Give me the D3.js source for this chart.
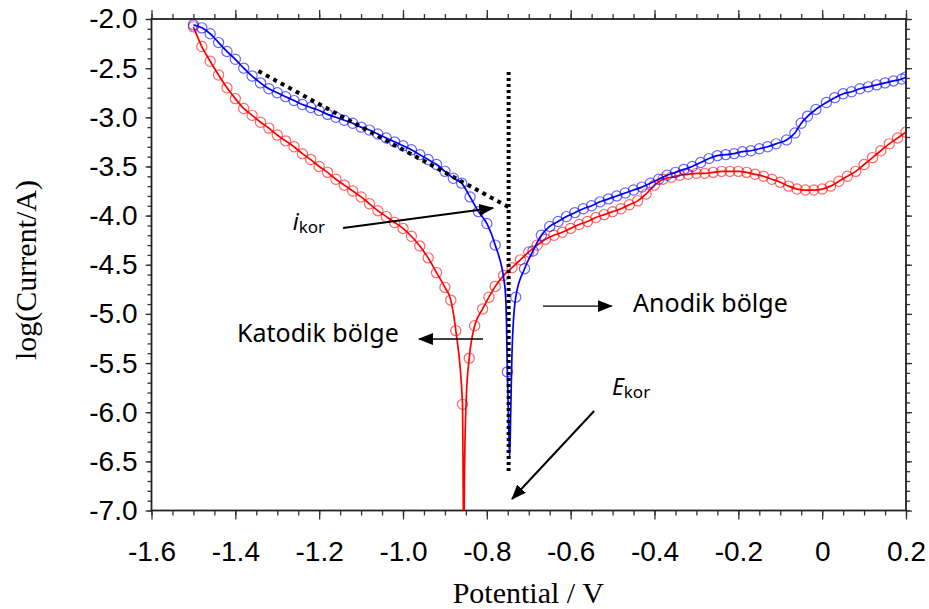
<!DOCTYPE html>
<html>
<head>
<meta charset="utf-8">
<script src="https://cdn.jsdelivr.net/npm/d3@7"></script>
<style>
  body { margin: 0; background: #fff; }
  svg { display: block; }
</style>
</head>
<body>
<svg width="929" height="609"></svg>
<script>
// scan data: [potential (V), log(Current/A)]
const bluePoints = [
  [-1.50,-2.06],[-1.48,-2.09],[-1.46,-2.15],[-1.44,-2.24],[-1.42,-2.33],[-1.40,-2.41],
  [-1.38,-2.50],[-1.36,-2.58],[-1.34,-2.65],[-1.32,-2.71],[-1.30,-2.75],[-1.28,-2.79],
  [-1.26,-2.83],[-1.24,-2.87],[-1.22,-2.90],[-1.20,-2.93],[-1.18,-2.97],[-1.16,-3.00],
  [-1.14,-3.03],[-1.12,-3.06],[-1.10,-3.10],[-1.08,-3.13],[-1.06,-3.17],[-1.04,-3.21],
  [-1.02,-3.25],[-1.00,-3.29],[-0.98,-3.33],[-0.96,-3.38],[-0.94,-3.43],[-0.92,-3.48],
  [-0.90,-3.55],[-0.88,-3.62],[-0.86,-3.67],[-0.84,-3.81],[-0.82,-3.96],[-0.80,-4.08],
  [-0.78,-4.30],[-0.751,-5.59],[-0.731,-4.83],[-0.71,-4.54],[-0.69,-4.36],[-0.67,-4.20],
  [-0.65,-4.11],[-0.63,-4.06],[-0.61,-4.01],[-0.59,-3.97],[-0.57,-3.93],[-0.55,-3.90],
  [-0.53,-3.86],[-0.51,-3.83],[-0.49,-3.80],[-0.47,-3.77],[-0.45,-3.74],[-0.43,-3.71],
  [-0.41,-3.67],[-0.39,-3.63],[-0.37,-3.59],[-0.35,-3.56],[-0.33,-3.53],[-0.31,-3.50],
  [-0.29,-3.46],[-0.27,-3.42],[-0.25,-3.39],[-0.23,-3.38],[-0.21,-3.37],[-0.19,-3.35],
  [-0.17,-3.34],[-0.15,-3.32],[-0.13,-3.30],[-0.11,-3.27],[-0.085,-3.23],[-0.065,-3.16],
  [-0.05,-3.06],[-0.035,-2.99],[-0.015,-2.92],[0.01,-2.85],[0.03,-2.80],[0.05,-2.76],
  [0.07,-2.74],[0.09,-2.71],[0.11,-2.69],[0.13,-2.67],[0.15,-2.65],[0.17,-2.63],
  [0.19,-2.61],[0.20,-2.59]
];
// fitted curve only (no marker) through the corrosion dip
const blueCusp = [
  [-0.757,-4.72],[-0.753,-5.1],[-0.748,-6.1],[-0.7455,-6.46],[-0.743,-6.0],[-0.740,-5.4],[-0.736,-5.03]
];

const redPoints = [
  [-1.50,-2.08],[-1.48,-2.28],[-1.46,-2.43],[-1.44,-2.57],[-1.42,-2.70],[-1.40,-2.81],
  [-1.38,-2.91],[-1.36,-2.98],[-1.34,-3.05],[-1.32,-3.11],[-1.30,-3.18],[-1.28,-3.24],
  [-1.26,-3.30],[-1.24,-3.37],[-1.22,-3.43],[-1.20,-3.50],[-1.18,-3.56],[-1.16,-3.63],
  [-1.14,-3.69],[-1.12,-3.75],[-1.10,-3.81],[-1.08,-3.88],[-1.06,-3.95],[-1.04,-4.01],
  [-1.02,-4.07],[-1.00,-4.13],[-0.98,-4.21],[-0.96,-4.31],[-0.94,-4.43],[-0.92,-4.58],
  [-0.90,-4.73],[-0.886,-4.86],[-0.874,-5.17],[-0.858,-5.92],[-0.842,-5.45],[-0.829,-5.12],
  [-0.81,-4.95],[-0.795,-4.83],[-0.78,-4.72],[-0.76,-4.61],[-0.74,-4.53],[-0.72,-4.45],
  [-0.70,-4.37],[-0.68,-4.30],[-0.66,-4.24],[-0.64,-4.20],[-0.62,-4.17],[-0.60,-4.13],
  [-0.58,-4.09],[-0.56,-4.06],[-0.54,-4.02],[-0.52,-3.99],[-0.50,-3.96],[-0.48,-3.93],
  [-0.46,-3.89],[-0.44,-3.85],[-0.42,-3.78],[-0.40,-3.69],[-0.38,-3.63],[-0.36,-3.61],
  [-0.34,-3.59],[-0.32,-3.58],[-0.30,-3.57],[-0.28,-3.57],[-0.26,-3.56],[-0.24,-3.55],
  [-0.22,-3.55],[-0.20,-3.55],[-0.18,-3.56],[-0.16,-3.58],[-0.14,-3.60],[-0.12,-3.63],
  [-0.10,-3.66],[-0.08,-3.70],[-0.06,-3.73],[-0.04,-3.74],[-0.02,-3.74],[0.00,-3.73],
  [0.02,-3.70],[0.04,-3.65],[0.06,-3.60],[0.08,-3.55],[0.10,-3.48],[0.12,-3.41],
  [0.14,-3.34],[0.16,-3.27],[0.18,-3.21],[0.20,-3.15]
];
const redCusp = [
  [-0.8565,-6.7],[-0.855,-7.6],[-0.8535,-6.7],[-0.849,-5.85]
];

const xTicks = [-1.6,-1.4,-1.2,-1.0,-0.8,-0.6,-0.4,-0.2,0,0.2];
const yTicks = [-7.0,-6.5,-6.0,-5.5,-5.0,-4.5,-4.0,-3.5,-3.0,-2.5,-2.0];

// Tafel construction lines
const tafelLine = [[-1.345,-2.53],[-0.745,-3.92]];
const ecorLine = [[-0.748,-2.54],[-0.748,-6.62]];

// annotation arrows, in data coordinates
const arrowNotes = [
  { from: [-1.143,-4.126], to: [-0.785,-3.923], w: 2 },
  { from: [-0.809,-5.255], to: [-0.962,-5.255], w: 1.5 },
  { from: [-0.666,-4.92], to: [-0.502,-4.92], w: 1.3 },
  { from: [-0.544,-5.988], to: [-0.740,-6.883], w: 2 }
];

const textNotes = [
  { text: "Katodik bölge", at: [-1.396,-5.286] },
  { text: "Anodik bölge", at: [-0.451,-4.981] }
];
const subNotes = [
  { main: "i", sub: "kor", at: [-1.263,-4.146] },
  { main: "E", sub: "kor", at: [-0.5015,-5.825] }
];

const svg = d3.select("svg");
const pLeft = 151.5, pRight = 906, pTop = 19, pBottom = 510.5;

const x = d3.scaleLinear().domain([-1.6, 0.2]).range([pLeft, pRight]);
const y = d3.scaleLinear().domain([-7, -2]).range([pBottom, pTop]);

function fmt(d) {
  return d === 0 ? "0" : d.toFixed(1);
}

const tickFont = "'Liberation Sans', Arial, sans-serif";
const minorX = d3.range(-1.6, 0.2001, 0.05);
const minorY = d3.range(-7, -1.999, 0.1);

function styleAxis(g) {
  g.select(".domain").remove();
  g.selectAll("line").attr("stroke", "#333").attr("stroke-width", 1.3);
  g.selectAll("text").attr("font-family", tickFont).attr("font-size", 28).attr("fill", "#000");
}

// bottom
svg.append("g").attr("transform", `translate(0,${pBottom})`)
  .call(d3.axisBottom(x).tickValues(minorX).tickSize(5).tickFormat(""))
  .call(styleAxis);
svg.append("g").attr("transform", `translate(0,${pBottom})`)
  .call(d3.axisBottom(x).tickValues(xTicks).tickSize(9).tickPadding(22).tickFormat(fmt))
  .call(styleAxis);
// top
svg.append("g").attr("transform", `translate(0,${pTop})`)
  .call(d3.axisTop(x).tickValues(minorX).tickSize(5).tickFormat(""))
  .call(styleAxis);
svg.append("g").attr("transform", `translate(0,${pTop})`)
  .call(d3.axisTop(x).tickValues(xTicks).tickSize(9).tickFormat(""))
  .call(styleAxis);
// left
svg.append("g").attr("transform", `translate(${pLeft},0)`)
  .call(d3.axisLeft(y).tickValues(minorY).tickSize(4).tickFormat(""))
  .call(styleAxis);
svg.append("g").attr("transform", `translate(${pLeft},0)`)
  .call(d3.axisLeft(y).tickValues(yTicks).tickSize(6).tickPadding(8).tickFormat(fmt))
  .call(styleAxis);
// right
svg.append("g").attr("transform", `translate(${pRight},0)`)
  .call(d3.axisRight(y).tickValues(minorY).tickSize(4).tickFormat(""))
  .call(styleAxis);
svg.append("g").attr("transform", `translate(${pRight},0)`)
  .call(d3.axisRight(y).tickValues(yTicks).tickSize(6).tickFormat(""))
  .call(styleAxis);

// frame
svg.append("rect")
  .attr("x", pLeft).attr("y", pTop)
  .attr("width", pRight - pLeft).attr("height", pBottom - pTop)
  .attr("fill", "none").attr("stroke", "#222").attr("stroke-width", 1.8);

svg.append("clipPath").attr("id", "plotClip")
  .append("rect").attr("x", pLeft).attr("y", pTop)
  .attr("width", pRight - pLeft).attr("height", pBottom - pTop);

const plot = svg.append("g").attr("clip-path", "url(#plotClip)");

const line = d3.line()
  .x(d => x(d[0]))
  .y(d => y(d[1]))
  .curve(d3.curveMonotoneX);

function drawSeries(points, cusp, color) {
  const all = points.concat(cusp).sort((a, b) => a[0] - b[0]);
  plot.selectAll(null)
    .data(points)
    .enter()
    .append("circle")
    .attr("cx", d => x(d[0]))
    .attr("cy", d => y(d[1]))
    .attr("r", 5.1)
    .attr("fill", "none")
    .attr("stroke", color)
    .attr("stroke-opacity", 0.6)
    .attr("stroke-width", 1.2);
  plot.append("path")
    .datum(all)
    .attr("d", line)
    .attr("fill", "none")
    .attr("stroke", color)
    .attr("stroke-width", 1.7);
}

drawSeries(redPoints, redCusp, "#ff0000");
drawSeries(bluePoints, blueCusp, "#0000ff");

// dotted tangent lines
const straight = d3.line().x(d => x(d[0])).y(d => y(d[1]));
svg.append("path").datum(tafelLine).attr("d", straight)
  .attr("stroke", "#000").attr("stroke-width", 4).attr("stroke-dasharray", "4,4.5").attr("fill", "none");
svg.append("path").datum(ecorLine).attr("d", straight)
  .attr("stroke", "#000").attr("stroke-width", 4).attr("stroke-dasharray", "3,3").attr("fill", "none");

// arrows
svg.append("defs").append("marker")
  .attr("id", "head")
  .attr("viewBox", "0 0 15 12")
  .attr("refX", 14).attr("refY", 6)
  .attr("markerWidth", 15).attr("markerHeight", 12)
  .attr("markerUnits", "userSpaceOnUse")
  .attr("orient", "auto")
  .append("path").attr("d", "M0,0 L15,6 L0,12 Z").attr("fill", "#000");

svg.selectAll(null)
  .data(arrowNotes)
  .enter()
  .append("line")
  .attr("x1", d => x(d.from[0])).attr("y1", d => y(d.from[1]))
  .attr("x2", d => x(d.to[0])).attr("y2", d => y(d.to[1]))
  .attr("stroke", "#000")
  .attr("stroke-width", d => d.w)
  .attr("marker-end", "url(#head)");

const noteFont = "'Noto Sans', 'Open Sans', sans-serif";
svg.selectAll(null)
  .data(textNotes)
  .enter()
  .append("text")
  .attr("x", d => x(d.at[0])).attr("y", d => y(d.at[1]))
  .attr("font-family", noteFont)
  .attr("font-size", 25)
  .attr("fill", "#000")
  .text(d => d.text);

const subs = svg.selectAll(null)
  .data(subNotes)
  .enter()
  .append("text")
  .attr("x", d => x(d.at[0])).attr("y", d => y(d.at[1]))
  .attr("font-family", noteFont)
  .attr("fill", "#000");
subs.append("tspan").attr("font-style", "italic").attr("font-size", 23).text(d => d.main);
subs.append("tspan").attr("font-size", 17).attr("dy", 3).text(d => d.sub);

// axis titles
svg.append("text")
  .attr("x", (pLeft + pRight) / 2 - 0.5)
  .attr("y", 603)
  .attr("text-anchor", "middle")
  .attr("font-family", "'Liberation Serif', 'Times New Roman', serif")
  .attr("font-size", 30)
  .text("Potential / V");

svg.append("text")
  .attr("transform", "translate(36,270) rotate(-90)")
  .attr("text-anchor", "middle")
  .attr("font-family", "'Liberation Serif', 'Times New Roman', serif")
  .attr("font-size", 30)
  .text("log(Current/A)");
</script>
</body>
</html>
